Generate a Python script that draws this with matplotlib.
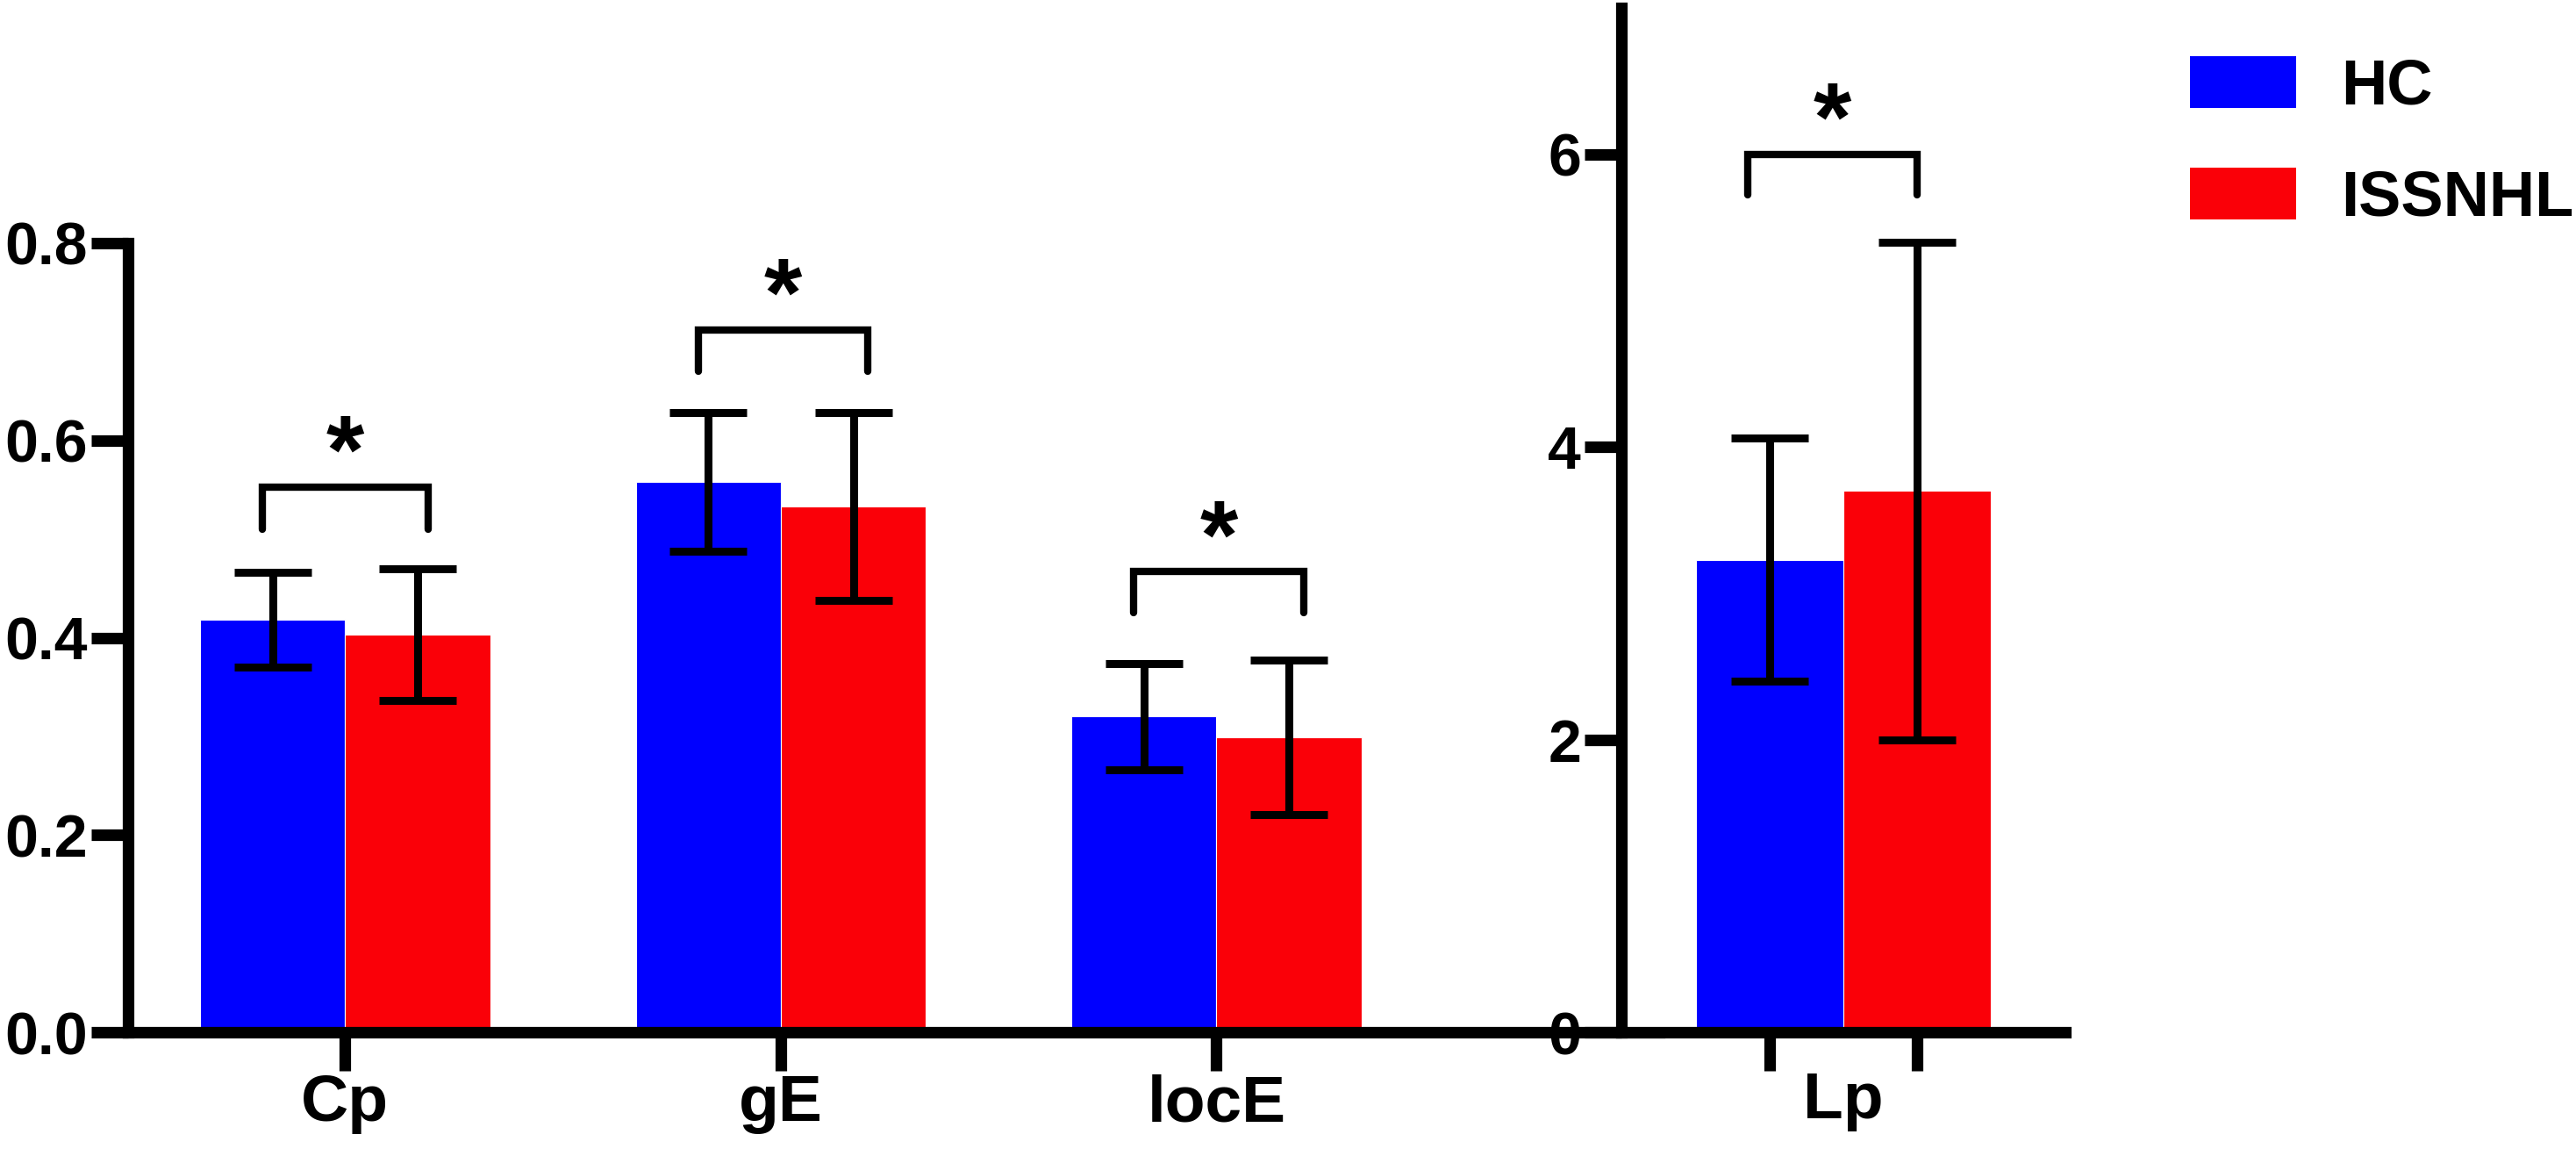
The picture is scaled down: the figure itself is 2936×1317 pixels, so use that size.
import matplotlib
matplotlib.use("Agg")
import matplotlib.pyplot as plt
from matplotlib.patches import Patch

plt.rcParams['font.family'] = ['Liberation Sans', 'DejaVu Sans']
plt.rcParams['font.weight'] = 'bold'

# data
groups = ['HC', 'ISSNHL']
colors = ['#0000ff', '#fa0008']

left_metrics = ['Cp', 'gE', 'locE']
hc_mean = [0.418, 0.558, 0.320]
hc_err = [0.048, 0.070, 0.054]
issnhl_mean = [0.403, 0.533, 0.299]
issnhl_err = [0.067, 0.095, 0.078]

lp_mean = [3.23, 3.70]
lp_err = [0.83, 1.70]

# significance brackets: (x_left, x_right, y_top, y_leg)
left_brackets = [(-0.19, 0.19, 0.553, 0.510),
                 (0.81, 1.20, 0.712, 0.670),
                 (1.81, 2.20, 0.467, 0.425)]
lp_bracket = (-0.22, 0.17, 6.0, 5.72)

W, H = 2936, 1317
fig = plt.figure(figsize=(W / 100, H / 100), dpi=100)

width = 0.333
spine_lw = 9.5
err_kw = dict(fmt='none', ecolor='black', elinewidth=6.5, capsize=32, capthick=6.5)


def style_axes(ax):
    for s in ['top', 'right']:
        ax.spines[s].set_visible(False)
    for s in ['left', 'bottom']:
        ax.spines[s].set_linewidth(spine_lw)
    ax.tick_params(axis='y', which='major', length=30, width=spine_lw,
                   labelsize=49, pad=3)
    ax.tick_params(axis='x', which='both', length=32, width=spine_lw,
                   labelsize=54, pad=2)


def bracket(ax, x0, x1, y, y_leg):
    ax.plot([x0, x0, x1, x1], [y_leg, y, y, y_leg], color='black', lw=6,
            solid_capstyle='round', solid_joinstyle='miter')
    ax.annotate('*', xy=((x0 + x1) / 2, y), xytext=(0, 3),
                textcoords='offset points', ha='center', va='baseline',
                fontsize=80, fontweight='bold')


# ---- left panel ----
ax = fig.add_axes([146 / W, (H - 1176) / H, (1891 - 146) / W, (1176 - 277) / H])
x = list(range(len(left_metrics)))
xh = [i - width / 2 for i in x]
xi = [i + width / 2 for i in x]
ax.bar(xh, hc_mean, width, color=colors[0], edgecolor='white', linewidth=0.8)
ax.bar(xi, issnhl_mean, width, color=colors[1], edgecolor='white', linewidth=0.8)
ax.errorbar(xh, hc_mean, yerr=hc_err, **err_kw)
ax.errorbar(xi, issnhl_mean, yerr=issnhl_err, **err_kw)
for (x0, x1, y, yl) in left_brackets:
    bracket(ax, x0, x1, y, yl)
ax.set_xlim(-0.498, 3.016)
ax.set_ylim(0, 0.8)
ax.set_yticks([0.0, 0.2, 0.4, 0.6, 0.8])
ax.set_yticklabels(['0.0', '0.2', '0.4', '0.6', '0.8'])
ax.set_xticks(x)
ax.set_xticklabels(left_metrics)
style_axes(ax)
for lab in ax.get_xticklabels() + ax.get_yticklabels():
    lab.set_fontweight('bold')

# ---- right panel ----
ax2 = fig.add_axes([1848 / W, (H - 1176) / H, (2354 - 1848) / W, (1176 - 9) / H])
pos = [-width / 2 * 1.02, width / 2 * 1.02]
ax2.bar(pos, lp_mean, width * 1.02, color=colors, edgecolor='white', linewidth=0.8)
ax2.errorbar(pos, lp_mean, yerr=lp_err, **err_kw)
bracket(ax2, *lp_bracket)
ax2.set_xlim(-0.51, 0.51)
ax2.set_ylim(0, 7)
ax2.set_yticks([0, 2, 4, 6])
ax2.set_yticklabels(['0', '2', '4', '6'])
ax2.set_xticks(pos, minor=True)
ax2.set_xticks([0])
ax2.set_xticklabels(['Lp'])
style_axes(ax2)
ax2.tick_params(axis='x', which='major', length=0, pad=32)
for lab in ax2.get_xticklabels() + ax2.get_yticklabels():
    lab.set_fontweight('bold')

# ---- legend ----
handles = [Patch(facecolor=c, edgecolor='none') for c in colors]
fig.legend(handles, groups, loc='upper left', bbox_to_anchor=(2496 / W, 1 - 64 / H),
           frameon=False, prop={'size': 52, 'weight': 'bold'},
           handlelength=1.67, handleheight=0.88, handletextpad=0.72, labelspacing=0.8,
           borderpad=0, borderaxespad=0)

fig.savefig('out.png', dpi=100)
